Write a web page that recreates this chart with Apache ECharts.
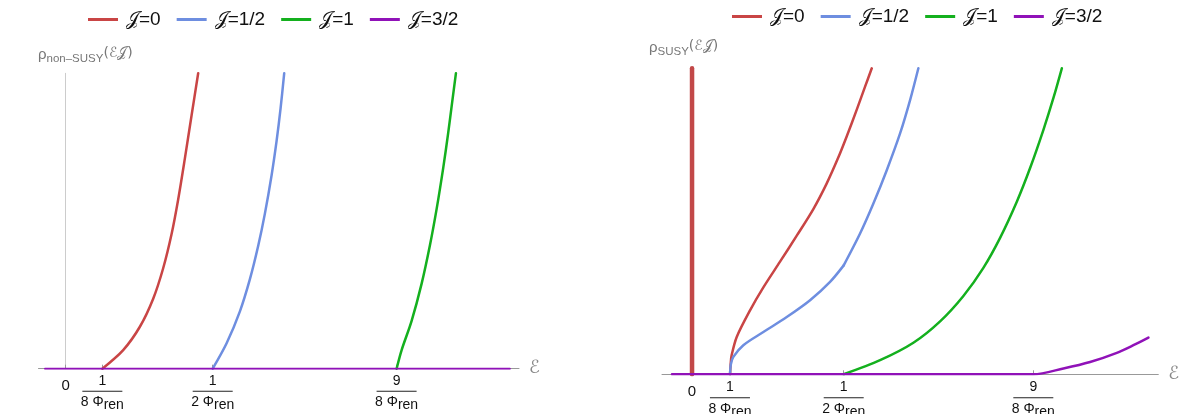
<!DOCTYPE html>
<html>
<head>
<meta charset="utf-8">
<script src="https://cdn.jsdelivr.net/npm/echarts@6/dist/echarts.min.js"></script>
<style>
html,body{margin:0;padding:0;background:#fff;}
#c{width:1190px;height:414px;}
</style>
</head>
<body>
<div id="c"></div>
<script>
// ---- data ----
const seriesNames = ['𝒥=0', '𝒥=1/2', '𝒥=1', '𝒥=3/2'];
const seriesColors = ['#C94545', '#6E8EE0', '#14B01E', '#9012B8'];
const tickValues = [0, 0.125, 0.5, 1.125];
const tickNumerators = ['0', '1', '1', '9'];
const tickDenominators = ['', '8', '2', '8'];

// non-SUSY density (left panel)
const nonSusyJ0 = [[0.125,0],[0.1958,6.3],[0.2525,14.2],[0.2978,23.7],[0.3317,34.0],[0.3603,45.6],[0.3827,57.3],[0.4055,71.2],[0.4283,85.8],[0.4507,100]];
const nonSusyJhalf = [[0.5,0],[0.5473,8.6],[0.5925,19.4],[0.6265,30.3],[0.6547,41.6],[0.6774,52.5],[0.7002,65.5],[0.7172,77.1],[0.7308,88.2],[0.7430,100]];
const nonSusyJ1 = [[1.125,0],[1.1421,6.3],[1.1761,16.2],[1.2101,28.8],[1.2383,41.8],[1.2611,54.1],[1.2835,68.0],[1.3005,79.9],[1.3141,90.4],[1.3266,100]];
const nonSusyJ3half = [[-0.07,0],[1.51,0]];

// SUSY density (right panel)
const susyJ0Delta = [[0,0],[0,100]];
const susyJ0 = [[0.1253,0],[0.1275,3.6],[0.1305,6.2],[0.1473,12.2],[0.1912,20.9],[0.2351,28.4],[0.2901,36.8],[0.3452,45.3],[0.3999,54.0],[0.4441,62.4],[0.4824,70.9],[0.5101,77.8],[0.5430,86.5],[0.5704,94.0],[0.5925,100]];
const susyJhalfLow = [[0.1253,0],[0.1280,3.3],[0.1362,5.7],[0.1691,9.5],[0.2351,13.8],[0.3122,18.7],[0.3891,24.2],[0.4550,30.2],[0.5,35.6]];
const susyJhalfHigh = [[0.5,35.6],[0.5539,46.0],[0.5978,55.8],[0.6419,66.7],[0.6858,78.7],[0.7188,89.6],[0.7461,100]];
const susyJ1 = [[0.5,0],[0.6199,4.6],[0.7296,10.3],[0.8177,17.3],[0.8945,25.6],[0.9604,34.8],[1.0155,44.6],[1.0706,56.4],[1.1144,67.4],[1.1583,79.9],[1.1913,90.3],[1.2190,100]];
const susyJ3half = [[-0.066,0],[1.125,0],[1.2242,1.9],[1.3122,4.0],[1.4003,7.0],[1.4550,9.5],[1.5045,12.0]];

// ---- chart ----
const FONT = '"Liberation Sans", Arial, sans-serif';
const chart = echarts.init(document.getElementById('c'), null, {renderer: 'canvas'});

function tickFormatter(v) {
  const i = tickValues.findIndex(t => Math.abs(t - v) < 1e-9);
  if (i < 0) return '';
  if (i === 0) return '{z|0}';
  return '{n|' + tickNumerators[i] + '}\n{b|}\n{d|' + tickDenominators[i] + ' Φ}{s|ren}';
}
const tickRich = {
  z: {fontSize: 15, lineHeight: 26, color: '#111', fontFamily: FONT},
  n: {fontSize: 14, lineHeight: 16, color: '#111', fontFamily: FONT, align: 'center'},
  b: {width: 40, height: 1, lineHeight: 5, backgroundColor: '#222'},
  d: {fontSize: 14, lineHeight: 17, color: '#111', fontFamily: FONT},
  s: {fontSize: 14, lineHeight: 17, color: '#111', fontFamily: FONT, padding: [6, 0, 0, 0]}
};

function xAxisCfg(gi, min, max, margin) {
  return {
    type: 'value', gridIndex: gi, min: min, max: max,
    splitLine: {show: false},
    axisLine: {show: true, onZero: true, lineStyle: {color: '#999', width: 1}},
    axisTick: {show: true, inside: true, length: 4, customValues: tickValues, lineStyle: {color: '#999'}},
    axisLabel: {show: true, customValues: tickValues, formatter: tickFormatter, rich: tickRich, margin: margin, interval: 0, hideOverlap: false, showMinLabel: true, showMaxLabel: true},
    name: 'ℰ', nameLocation: 'end', nameGap: 10,
    nameTextStyle: {color: '#888', fontSize: 18, fontFamily: '"DejaVu Sans", sans-serif', verticalAlign: 'middle'}
  };
}
function yAxisCfg(gi, color) {
  return {
    type: 'value', gridIndex: gi, min: 0, max: 100,
    splitLine: {show: false},
    axisLine: {show: true, onZero: true, lineStyle: {color: color, width: 1}},
    axisTick: {show: false}, axisLabel: {show: false}
  };
}
function lineSeries(name, color, data, xi, width, smooth) {
  return {
    type: 'line', name: name, xAxisIndex: xi, yAxisIndex: xi, data: data,
    showSymbol: false, symbol: 'none', smooth: smooth,
    lineStyle: {color: color, width: width, join: 'round', cap: 'round'}, itemStyle: {color: color},
    animation: false, clip: true, silent: true
  };
}

const legendBase = {
  data: seriesNames, icon: 'rect', itemWidth: 30, itemHeight: 3, itemGap: 16, itemStyle: {borderWidth: 0},
  textStyle: {fontSize: 19, color: '#111', fontFamily: FONT, padding: [0, 0, 0, 3]},
  selectedMode: false
};

const titleRich = {
  r: {fontSize: 15, color: '#777', fontFamily: FONT, fontWeight: 'normal', lineHeight: 20},
  s: {fontSize: 11.5, color: '#777', fontFamily: FONT, fontWeight: 'normal', lineHeight: 20, padding: [7, 0, 0, 0]},
  p: {fontSize: 14, color: '#777', fontFamily: '"DejaVu Sans", sans-serif', fontWeight: 'normal', lineHeight: 20, padding: [0, 0, 4, 0]}
};

chart.setOption({
  animation: false,
  backgroundColor: '#fff',
  title: [
    {left: 33, top: 40, text: '{r|ρ}{s|non–SUSY}{p|(ℰ𝒥)}', textStyle: {fontWeight: 'normal', rich: titleRich}},
    {left: 644, top: 33, text: '{r|ρ}{s|SUSY}{p|(ℰ𝒥)}', textStyle: {fontWeight: 'normal', rich: titleRich}}
  ],
  legend: [
    Object.assign({left: 83, top: 5}, legendBase),
    Object.assign({left: 727, top: 2}, legendBase)
  ],
  grid: [
    {left: 38.5, top: 73.3, width: 480.5, height: 295.4, containLabel: false, outerBoundsMode: 'none'},
    {left: 662, top: 68.3, width: 496.3, height: 306.0, containLabel: false, outerBoundsMode: 'none'}
  ],
  xAxis: [xAxisCfg(0, -0.092, 1.541, 4), xAxisCfg(1, -0.099, 1.537, 5)],
  yAxis: [yAxisCfg(0, '#cccccc'), yAxisCfg(1, '#bbbbbb')],
  series: [
    lineSeries(seriesNames[0], seriesColors[0], nonSusyJ0, 0, 2.5, 0.3),
    lineSeries(seriesNames[1], seriesColors[1], nonSusyJhalf, 0, 2.5, 0.3),
    lineSeries(seriesNames[2], seriesColors[2], nonSusyJ1, 0, 2.5, 0.3),
    lineSeries(seriesNames[3], seriesColors[3], nonSusyJ3half, 0, 2, false),
    lineSeries(seriesNames[0], '#C24848', susyJ0Delta, 1, 4.5, false),
    lineSeries(seriesNames[0], seriesColors[0], susyJ0, 1, 2.5, 0.3),
    lineSeries(seriesNames[1], seriesColors[1], susyJhalfLow, 1, 2.5, 0.3),
    lineSeries(seriesNames[1], seriesColors[1], susyJhalfHigh, 1, 2.5, 0.3),
    lineSeries(seriesNames[2], seriesColors[2], susyJ1, 1, 2.5, 0.3),
    lineSeries(seriesNames[3], seriesColors[3], susyJ3half, 1, 2.5, 0.3)
  ]
});
</script>
</body>
</html>
